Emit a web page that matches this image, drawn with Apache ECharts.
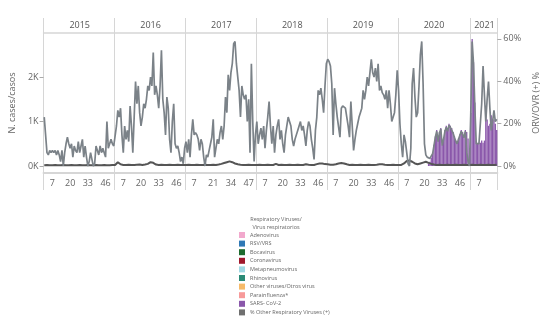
<!DOCTYPE html>
<html><head><meta charset="utf-8">
<script src="https://cdn.jsdelivr.net/npm/echarts@6/dist/echarts.min.js"></script>
<style>html,body{margin:0;padding:0;background:#fff}#c{width:549px;height:320px}</style>
</head><body><div id="c"></div>
<script>
const years = ['2015','2016','2017','2018','2019','2020','2021'];
const weeksPerYear = [52,52,52,52,52,53,20];
const yearLabelWeek = [27,27,27,27,27,27,11];
const tickWeeks = {
  '2015':[7,20,33,46],'2016':[7,20,33,46],'2017':[7,21,34,47],
  '2018':[7,20,33,46],'2019':[7,20,33,46],'2020':[7,20,33,46],'2021':[7]
};
// N. cases per week (gray line)
const cases2015 = [1100,700,300,250,350,300,350,300,350,250,350,250,100,350,0,300,500,650,500,400,500,200,450,350,300,550,300,450,600,200,450,200,0,100,300,150,0,50,450,350,250,450,300,400,300,200,1000,400,500,600,500,450];
const cases2016 = [450,900,1250,1100,1300,700,300,900,600,800,550,1350,900,300,1100,1900,1400,1800,1200,900,1100,1400,1300,1500,1800,1700,2000,1800,2550,1600,1800,1600,1300,1800,2600,1500,1200,700,1550,1300,600,300,1000,1400,500,400,450,300,100,200,50,400];
const cases2017 = [550,300,600,200,700,1050,700,750,700,600,350,600,500,200,0,250,200,350,500,650,1050,200,400,600,500,750,900,600,900,1550,1200,2050,1700,2100,2300,2750,2800,2300,2300,1700,1100,1800,1600,1500,1600,1000,1500,300,2300,1000,100,700];
const cases2018 = [1000,500,700,850,600,900,400,800,1100,1450,900,500,900,300,700,900,1050,600,800,500,300,700,900,1100,1000,900,600,450,600,700,800,900,1000,800,900,700,450,800,1000,900,600,400,150,800,1100,1700,1600,1750,1500,1200,1800,2300];
const cases2019 = [2400,2350,2250,1850,700,1750,1400,1100,1100,650,1300,1350,1350,1300,1100,900,650,1450,900,350,600,800,950,1100,1200,1300,1700,1500,1700,2000,1800,2100,2400,2100,2000,2200,1900,2300,1700,1800,1650,1600,1500,1700,1300,1700,1400,1000,1000,1200,1600,2150];
const cases2020 = [1700,950,500,200,700,550,300,50,0,400,1850,2200,1550,1100,1200,1800,2500,2800,1850,500,250,200,170,170,170,280,460,650,780,550,740,830,460,600,780,870,780,920,870,830,740,640,550,500,600,690,780,740,640,780,300,100,0];
const cases2021 = [1200,2800,2300,1300,500,500,500,500,1400,2250,1600,1000,1500,1900,1300,800,1000,1250,1000,1050];
// SARS-CoV-2 (%)
const sars2020 = [0,0,0,0,0,0,0,0,0,0,0,0,0,0,0,0,0,0,0,0,0,0,1,2,4,6,10,14,17,12,16,18,10,13,17,19,17,20,19,18,16,14,12,11,13,15,17,16,14,17,16,13,5];
const sars2021 = [25,60,49,30,12,11,11,11,12,11,12,25,22,19,20,24,21,22,20,17];
// % Other Respiratory Viruses (+)
const other2015 = [0.4,0.4,0.5,0.4,0.4,0.5,0.4,0.4,0.5,0.4,0.4,0.5,0.4,0.4,0.5,0.4,0.4,0.5,0.4,0.4,0.5,0.4,0.4,0.5,0.4,0.4,0.5,0.4,0.4,0.5,0.4,0.4,0.5,0.4,0.4,0.5,0.4,0.4,0.5,0.4,0.4,0.5,0.4,0.4,0.5,0.4,0.4,0.5,0.4,0.4,0.5,0.4];
const other2016 = [0.5,1.2,1.8,1.5,0.8,0.5,0.5,0.6,0.5,0.5,0.6,0.5,0.5,0.6,0.5,0.5,0.6,0.8,0.7,0.6,0.5,0.6,0.7,0.8,1.0,1.3,1.8,2.0,1.5,1.0,0.7,0.6,0.5,0.5,0.6,0.5,0.5,0.6,0.5,0.5,0.6,0.5,0.5,0.6,0.5,0.5,0.6,0.5,0.5,0.5,0.5,0.5];
const other2017 = [0.5,0.5,0.6,0.5,0.5,0.6,0.5,0.5,0.6,0.5,0.5,0.6,0.5,0.5,0.6,0.5,0.5,0.6,0.5,0.5,0.6,0.5,0.5,0.6,0.7,0.8,1.0,1.2,1.4,1.6,1.8,2.0,2.2,2.0,1.8,1.5,1.2,1.0,0.8,0.7,0.6,0.5,0.5,0.6,0.5,0.5,0.6,0.5,0.5,0.6,0.5,0.5];
const other2018 = [0.5,0.5,0.6,0.5,0.5,0.6,0.5,0.5,0.6,0.5,0.5,0.6,0.5,0.8,1.0,0.6,0.5,0.5,0.6,0.5,0.5,0.6,0.5,0.5,0.6,0.5,0.5,0.6,0.5,0.5,0.6,0.5,0.5,0.6,0.5,0.5,0.8,1.0,0.6,0.5,0.5,0.6,0.5,0.7,0.9,1.1,1.2,1.3,1.2,1.0,0.9,0.8];
const other2019 = [0.8,0.7,0.6,0.5,0.6,0.5,0.8,1.0,1.2,1.3,1.4,1.3,1.2,1.0,0.8,0.6,0.5,0.5,0.6,0.5,0.5,0.6,0.5,0.5,0.6,0.5,0.5,0.6,0.5,0.5,0.6,0.5,0.5,0.6,0.5,0.5,0.6,0.7,0.8,0.9,0.8,0.7,0.6,0.5,0.5,0.6,0.5,0.5,0.6,0.5,0.5,0.6];
const other2020 = [0.5,0.6,0.5,0.8,1.2,1.8,2.4,2.8,2.6,2.2,2.0,1.6,1.2,1.0,0.8,1.0,1.2,1.4,1.6,1.8,2.0,1.8,1.5,1.2,1.0,0.8,0.7,0.6,0.5,0.5,0.6,0.5,0.5,0.6,0.5,0.5,0.6,0.5,0.5,0.6,0.5,0.5,0.6,0.5,0.5,0.6,0.5,0.5,0.6,0.5,0.5,0.6,0.5];
const other2021 = [0.5,0.6,0.5,0.5,0.6,0.5,0.5,0.6,0.5,0.5,0.6,0.5,0.5,0.6,0.5,0.5,0.6,0.5,0.5,0.6];

const legendNames = ['Adenovirus','RSV/VRS','Bocavirus','Coronavirus','Metapneumovirus','Rhinovirus','Other viruses/Otros virus','Parainfluenza*','SARS- CoV-2','% Other Respiratory Viruses (+)'];
const legendColors = ['#f2a9cd','#2f78b5','#1d6b2e','#a0182c','#9fd8e3','#2a8a76','#f7bb6a','#f79a9a','#8a57aa','#6f6f6f'];
const leftTicks = [0,1000,2000];
const rightTicks = [0,20,40,60];

const categories = [];
years.forEach((y,i)=>{ for(let w=1; w<=weeksPerYear[i]; w++) categories.push(y+'-'+w); });
const casesAll = [].concat(cases2015,cases2016,cases2017,cases2018,cases2019,cases2020,cases2021);
const zeros = new Array(52*5).fill(0);
const sarsAll = [].concat(zeros, sars2020, sars2021);
const otherAll = [].concat(other2015,other2016,other2017,other2018,other2019,other2020,other2021);

const isYearStart = (idx, val) => String(val).split('-')[1] === '1';
const isTickWeek = (idx, val) => { const p = String(val).split('-'); return (tickWeeks[p[0]]||[]).indexOf(+p[1]) >= 0; };
const isYearLabel = (idx, val) => { const p = String(val).split('-'); return +p[1] === yearLabelWeek[years.indexOf(p[0])]; };

const FONT = 'Open Sans';
const lineCol = '#d6d6d6';
const series = [];
legendNames.slice(0,8).forEach((n,i)=>{
  series.push({name:n, type:'bar', stack:'v', yAxisIndex:1, data:[], itemStyle:{color:legendColors[i]}});
});
series.push({name:legendNames[8], type:'bar', stack:'v', yAxisIndex:1, data:sarsAll, barCategoryGap:'5%',
  itemStyle:{color:legendColors[8]}, z:2});
series.push({name:legendNames[9], type:'line', yAxisIndex:1, data:otherAll, symbol:'none',
  lineStyle:{color:'#555', width:2}, itemStyle:{color:legendColors[9]}, z:4});
series.push({name:'N. cases/casos', type:'line', yAxisIndex:0, data:casesAll, symbol:'none',
  lineStyle:{color:'#7b8288', width:1.7}, itemStyle:{color:'#7b8288'}, z:5});

const chart = echarts.init(document.getElementById('c'));
chart.setOption({
  animation:false,
  textStyle:{fontFamily:FONT},
  title:{text:'Respiratory Viruses/\nVirus respiratorios', left:276, top:215, padding:0, textAlign:'center',
    textStyle:{fontSize:5.5, lineHeight:8.3, color:'#666', fontWeight:'normal', fontFamily:FONT}},
  legend:{data:legendNames, orient:'vertical', left:239, top:232, itemWidth:6, itemHeight:6, itemGap:2.6,
    icon:'rect', selectedMode:false, padding:0,
    textStyle:{fontSize:5.5, color:'#666', lineHeight:6, fontFamily:FONT}},
  grid:{left:42, right:34, top:33, bottom:147},
  xAxis:[
    {type:'category', data:categories, position:'bottom', boundaryGap:true,
      axisLine:{show:true, onZero:false, lineStyle:{color:lineCol, width:2}},
      axisTick:{show:true, interval:isYearStart, length:17, lineStyle:{color:lineCol}},
      splitLine:{show:true, interval:isYearStart, lineStyle:{color:lineCol}},
      axisLabel:{interval:isTickWeek, formatter:v=>v.split('-')[1], fontSize:9, color:'#666', margin:6, fontFamily:FONT}},
    {type:'category', data:categories, position:'top', boundaryGap:true,
      axisLine:{show:true, onZero:false, lineStyle:{color:lineCol, width:1.5}},
      axisTick:{show:true, interval:isYearStart, length:15, lineStyle:{color:lineCol}},
      axisLabel:{interval:isYearLabel, formatter:v=>v.split('-')[0], fontSize:9, color:'#555', margin:3, fontFamily:FONT}}
  ],
  yAxis:[
    {type:'value', position:'left', min:-157, max:2990,
      name:'N. cases/casos', nameLocation:'middle', nameRotate:90, nameGap:20,
      nameTextStyle:{fontSize:9, color:'#666', fontFamily:FONT},
      axisLine:{show:true, lineStyle:{color:lineCol}},
      axisTick:{show:true, length:4, customValues:leftTicks, lineStyle:{color:'#aaa'}},
      axisLabel:{customValues:leftTicks, formatter:v=>(v/1000)+'K', fontSize:9, color:'#666', margin:5, fontFamily:FONT},
      splitLine:{show:false}},
    {type:'value', position:'right', min:-3.3, max:62.8,
      name:'ORV/OVR (+) %', nameLocation:'middle', nameRotate:90, nameGap:30,
      nameTextStyle:{fontSize:9, color:'#666', fontFamily:FONT},
      axisLine:{show:true, lineStyle:{color:lineCol}},
      axisTick:{show:true, length:4, customValues:rightTicks, lineStyle:{color:'#aaa'}},
      axisLabel:{customValues:rightTicks, formatter:v=>v+'%', fontSize:9, color:'#666', margin:6, fontFamily:FONT},
      splitLine:{show:false}}
  ],
  series:series
});
</script>
</body></html>
